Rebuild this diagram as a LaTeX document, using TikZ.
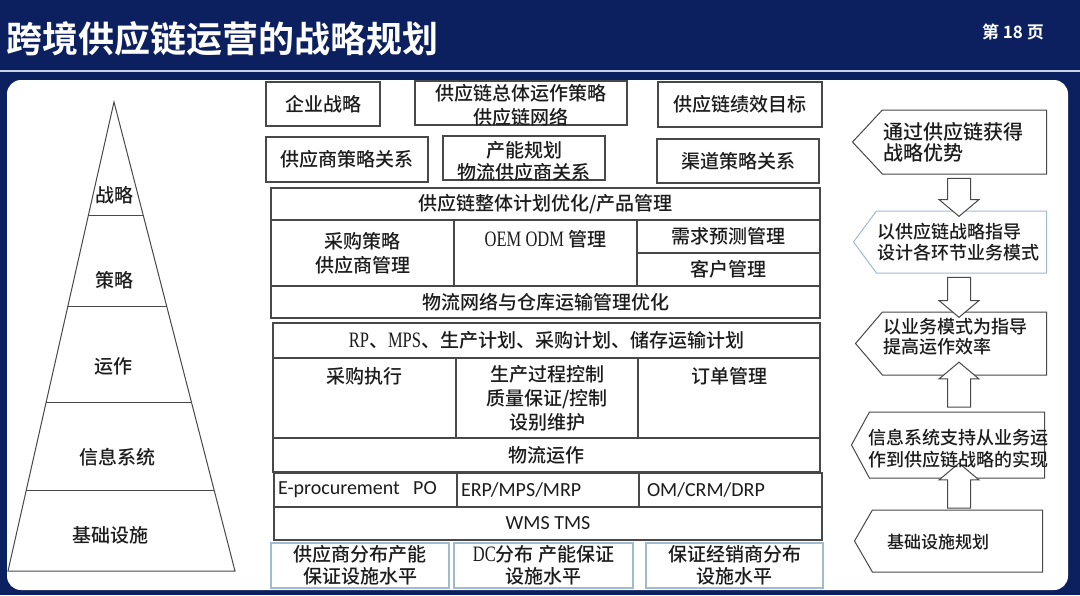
\documentclass[tikz,border=0pt]{standalone}
\usepackage{fontspec}
\setmainfont{Noto Sans CJK SC}[UprightFont={* Medium}, BoldFont={* Bold}]
\newfontfamily\calib{Carlito}
\newfontfamily\song{Liberation Serif}[FakeStretch=0.75]
\usetikzlibrary{positioning,calc,shapes.symbols,shapes.arrows}
\definecolor{navy}{RGB}{12,32,96}
\definecolor{rulecol}{RGB}{200,212,230}
\definecolor{ink}{RGB}{28,28,28}
\definecolor{edge}{RGB}{72,72,72}
\definecolor{paleedge}{RGB}{160,186,208}
\newcommand{\bodyfont}{\fontsize{19}{24}\selectfont}
\newcommand{\smallfont}{\fontsize{18}{21}\selectfont}
\newcommand{\lat}[1]{{\song\fontsize{22}{24}\selectfont #1}}

\begin{document}
\begin{tikzpicture}[x=1pt,y=-1pt]
\tikzstyle{cell}=[rectangle, draw=edge, line width=1.2pt, inner sep=0pt, text=ink, font=\bodyfont, align=center]
\tikzstyle{pale}=[cell, draw=paleedge]
\tikzstyle{it}=[cell, font=\calib\fontsize{20}{24}\selectfont, align=left, inner xsep=4pt, minimum height=34pt]
\tikzstyle{word}=[text=ink, font=\bodyfont, inner sep=0pt, align=center]
\tikzstyle{goal}=[signal, signal to=west, draw=edge, line width=1pt, fill=white, inner sep=0pt, anchor=east]
\tikzstyle{goaltext}=[text=ink, font=\smallfont, align=left, inner sep=0pt, anchor=west]
\tikzstyle{flow}=[single arrow, draw=edge, fill=white, line width=1pt, inner sep=11pt, minimum width=39pt, single arrow head extend=8.5pt, single arrow tip angle=100]

	\useasboundingbox (0,0) rectangle (1080,595);
	\fill[navy] (0,0) rectangle (1080,595);
	\draw[rulecol, line width=2pt] (0,71) -- (1080,71);
	\fill[white, rounded corners=14pt] (7,80) rectangle (1068,590);

	\node[anchor=west, inner sep=0pt, text=white, font=\bfseries\fontsize{36}{40}\selectfont] (title) at (6,39) {跨境供应链运营的战略规划};
	\node[anchor=east, inner sep=0pt, text=white, font=\bfseries\fontsize{17}{20}\selectfont] (page) at (1044,32) {第 18 页};

	% pyramid
	\coordinate (apex) at (114,102);
	\coordinate (bl) at (8,571);
	\coordinate (br) at (235,571);
	\draw[edge, line width=1pt] (apex) -- (bl) -- (br) -- cycle;
	\foreach \t in {0.241,0.435,0.640,0.829}
		\draw[edge, line width=1pt] ($(apex)!\t!(bl)$) -- ($(apex)!\t!(br)$);
	\node[word] (lv1) at (114,195) {战略};
	\node[word] (lv2) at (114,280) {策略};
	\node[word] (lv3) at (113,366) {运作};
	\node[word] (lv4) at (117,457) {信息系统};
	\node[word] (lv5) at (110,535) {基础设施};

	% strategy boxes
	\node[cell, minimum width=114pt, minimum height=44pt] (corp) at (323,104) {企业战略};
	\node[cell, minimum width=212pt, minimum height=44pt] (scall) at (521,103) {};
	\node[word] (scallt) at (521,105) {供应链总体运作策略\\供应链网络};
	\node[cell, minimum width=164pt, minimum height=45pt] (perf) at (740,104.5) {供应链绩效目标};
	\node[cell, minimum width=162pt, minimum height=45pt] (supp) at (347,159.5) {供应商策略关系};
	\node[cell, minimum width=162pt, minimum height=44pt] (cap) at (524,158) {};
	\node[word, font=\fontsize{19}{22}\selectfont] (capt) at (524,161) {产能规划\\物流供应商关系};
	\node[cell, minimum width=162pt, minimum height=44pt] (chan) at (738,161) {渠道策略关系};

	% tactics block
	\node[cell, minimum width=549pt, minimum height=32pt] (plan) at (545.5,204) {供应链整体计划优化/产品管理};
	\node[cell, minimum width=183pt, minimum height=66pt] (buy) at (362.5,253) {采购策略\\供应商管理};
	\node[cell, minimum width=183pt, minimum height=66pt] (oem) at (545.5,253) {};
	\node[word] (oemt) at (545.5,239) {\lat{OEM ODM} 管理};
	\node[cell, minimum width=183pt, minimum height=33pt] (fcst) at (728.5,236.5) {需求预测管理};
	\node[cell, minimum width=183pt, minimum height=33pt] (cust) at (728.5,269.5) {客户管理};
	\node[cell, minimum width=549pt, minimum height=32pt] (logi) at (545.5,302) {物流网络与仓库运输管理优化};

	% operations block
	\node[cell, minimum width=547pt, minimum height=35pt] (mrp) at (546.5,340.5) {\lat{RP}、\lat{MPS}、生产计划、采购计划、储存运输计划};
	\node[cell, minimum width=183pt, minimum height=80pt] (exec) at (364.5,398) {};
	\node[word] (exect) at (364.5,376) {采购执行};
	\node[cell, minimum width=182pt, minimum height=80pt] (prod) at (547,398) {生产过程控制\\质量保证/控制\\设别维护};
	\node[cell, minimum width=182pt, minimum height=80pt] (order) at (729,398) {};
	\node[word] (ordert) at (729,376) {订单管理};
	\node[cell, minimum width=547pt, minimum height=34pt] (ops) at (546.5,455) {物流运作};

	% systems block
	\node[it, text width=175pt] (eproc) at (365.5,490) {E-procurement\ \ PO};
	\node[it, text width=174pt] (erp) at (548,490) {ERP/MPS/MRP};
	\node[it, text width=167pt, inner xsep=8pt] (om) at (730.5,490) {OM/CRM/DRP};
	\node[cell, minimum width=548pt, minimum height=33pt, font=\calib\fontsize{20}{24}\selectfont] (wms) at (548,523.5) {WMS TMS};

	% infrastructure
	\node[pale, minimum width=178pt, minimum height=45pt, font=\fontsize{19}{22}\selectfont] (dist1) at (360,565.5) {供应商分布产能\\保证设施水平};
	\node[pale, minimum width=179pt, minimum height=45pt, font=\fontsize{19}{22}\selectfont] (dist2) at (543.5,565.5) {\lat{DC}分布 产能保证\\设施水平};
	\node[pale, minimum width=177pt, minimum height=45pt, font=\fontsize{19}{22}\selectfont] (dist3) at (734.5,565.5) {保证经销商分布\\设施水平};

	% goals
	\node[goal, minimum width=194pt, minimum height=64pt, signal pointer angle=94] (goal1) at (1047,142) {};
	\node[goal, draw=paleedge, minimum width=193pt, minimum height=62pt, signal pointer angle=107] (goal2) at (1047,242) {};
	\node[goal, minimum width=191pt, minimum height=63pt, signal pointer angle=99] (goal3) at (1047,343.5) {};
	\node[goal, minimum width=193pt, minimum height=66pt, signal pointer angle=123] (goal4) at (1045,445) {};
	\node[goal, minimum width=188pt, minimum height=62pt, signal pointer angle=120] (goal5) at (1043,541) {};

	\node[flow, shape border rotate=270, minimum height=38pt] (a1) at (959,192.5) {};
	\node[flow, shape border rotate=270, minimum height=40pt] (a2) at (959,292.5) {};
	\node[flow, shape border rotate=90, minimum height=45pt] (a3) at (959,389.5) {};
	\node[flow, shape border rotate=90, minimum height=45pt] (a4) at (959,490.5) {};

	\node[goaltext, font=\fontsize{20}{21}\selectfont] (g1) at (883,142) {通过供应链获得\\战略优势};
	\node[goaltext] (g2) at (877,242) {以供应链战略指导\\设计各环节业务模式};
	\node[goaltext, font=\fontsize{18}{20}\selectfont] (g3) at (883,337) {以业务模式为指导\\提高运作效率};
	\node[goaltext, font=\fontsize{18}{22}\selectfont] (g4) at (868,449) {信息系统支持从业务运\\作到供应链战略的实现};
	\node[goaltext, font=\fontsize{17}{20}\selectfont] (g5) at (887,542) {基础设施规划};

\end{tikzpicture}
\end{document}
